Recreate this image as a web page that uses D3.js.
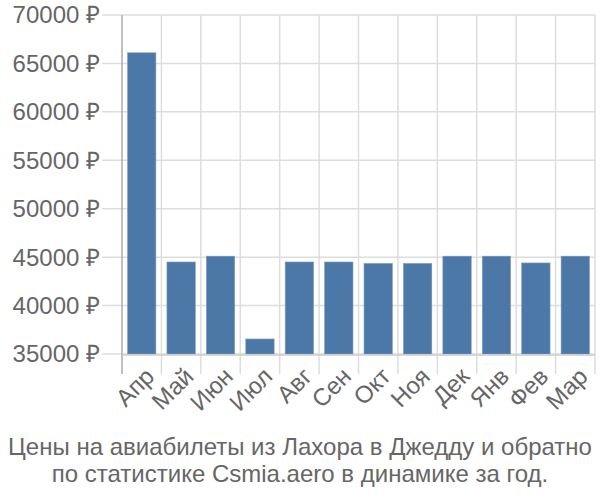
<!DOCTYPE html>
<html><head><meta charset="utf-8">
<script src="https://cdn.jsdelivr.net/npm/d3@7"></script>
<style>body{margin:0;background:#fff}svg{display:block}text{font-family:"Liberation Sans",Arial,sans-serif;fill:#666}</style>
</head><body><svg id="c" width="600" height="500"></svg>
<script>
const months = ["Апр","Май","Июн","Июл","Авг","Сен","Окт","Ноя","Дек","Янв","Фев","Мар"];
const prices = [66100,44500,45100,36550,44500,44500,44350,44350,45100,45100,44400,45100];
const yTicks = [35000,40000,45000,50000,55000,60000,65000,70000];
const titleLines = ["Цены на авиабилеты из Лахора в Джедду и обратно","по статистике Csmia.aero в динамике за год."];

(function(){
const svg = d3.select("#c");
const pl = 122, pr = 595, pt = 15, pb = 354;
const x = d3.scaleBand().domain(months).range([pl, pr]).paddingInner(0.28).paddingOuter(0.14);
const y = d3.scaleLinear().domain([35000, 70000]).range([pb, pt]);

svg.append("g").selectAll("line").data(yTicks).join("line")
  .attr("x1", 102).attr("x2", pr).attr("y1", d => y(d)).attr("y2", d => y(d))
  .attr("stroke", "#ddd").attr("stroke-width", 1.5);
const bounds = months.map(m => x(m) - x.step()*x.paddingInner()/2).concat([pr]);
svg.append("g").selectAll("line").data(bounds.slice(1)).join("line")
  .attr("x1", d => d).attr("x2", d => d).attr("y1", pt).attr("y2", 374)
  .attr("stroke", "#ddd").attr("stroke-width", 1.5);
svg.append("line").attr("x1", pl).attr("x2", pl).attr("y1", pt).attr("y2", 374)
  .attr("stroke", "#aaa").attr("stroke-width", 1.5);

svg.append("g").selectAll("rect").data(prices).join("rect")
  .attr("x", (d,i) => x(months[i])).attr("width", x.bandwidth())
  .attr("y", d => y(d)).attr("height", d => pb - y(d))
  .attr("fill", "#4c78a8").attr("stroke", "#7d9dc4").attr("stroke-width", 0.6);

svg.append("line").attr("x1", pl).attr("x2", pr).attr("y1", pb + 1).attr("y2", pb + 1)
  .attr("stroke", "#ccc").attr("stroke-width", 1.5);

svg.append("g").selectAll("text").data(yTicks).join("text")
  .attr("x", 100).attr("y", d => y(d)).attr("dy", "0.35em")
  .attr("text-anchor", "end").attr("font-size", 24)
  .text(d => d + " ₽");

svg.append("g").selectAll("text").data(months).join("text")
  .attr("transform", m => `translate(${x(m) + x.bandwidth()/2 + 8},${372}) rotate(-45)`)
  .attr("text-anchor", "end").attr("dy", "0.35em").attr("font-size", 24)
  .text(m => m);

svg.append("g").selectAll("text").data(titleLines).join("text")
  .attr("x", 300).attr("y", (d,i) => 455 + i*27).attr("text-anchor", "middle")
  .attr("font-size", 24).text(d => d);
})();
</script></body></html>
